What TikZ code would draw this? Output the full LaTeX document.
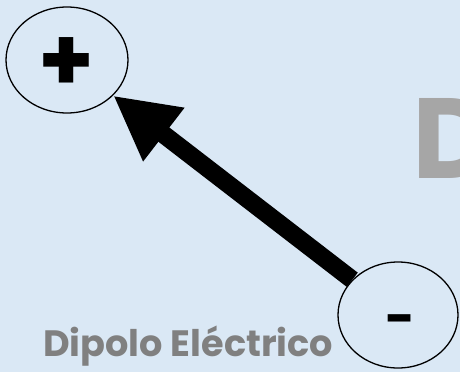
\documentclass[tikz,border=0pt]{standalone}
\usepackage{fontspec}
\setmainfont{Poppins}
\usetikzlibrary{shapes.geometric,arrows.meta}
\definecolor{bg}{RGB}{218,232,245}
\definecolor{titlegray}{RGB}{128,128,128}
\definecolor{dgray}{RGB}{166,166,166}
\begin{document}
\begin{tikzpicture}[x=1pt,y=-1pt,
  charge/.style={ellipse, draw, line width=1.3pt, minimum width=122pt, minimum height=106pt, inner sep=0pt},
  sign/.style={inner sep=0pt, font=\fontsize{54}{54}\selectfont\bfseries, text=black}]
\fill[bg] (0,0) rectangle (460,372);
\useasboundingbox (0,0) rectangle (460,372);
\clip (0,0) rectangle (460,372);
\node[font=\fontsize{114}{114}\selectfont\bfseries, text=dgray, anchor=base west, inner sep=0pt] (D) at (412,178) {D};
\node[font=\fontsize{30}{30}\selectfont\bfseries, text=titlegray, anchor=base west, inner sep=0pt] (title) at (43,356) {\resizebox{290pt}{!}{Dipolo Eléctrico}};
\node[charge] (P) at (67,60) {};
\node[charge, minimum width=120pt] (M) at (398,315) {};
\node[sign] (ps) at (67,65) {\resizebox{56pt}{!}{+}};
\node[sign] (ms) at (400,326) {\resizebox{30pt}{!}{-}};
\draw[line width=18pt, -{Triangle[length=64pt,width=63pt]}] (M) -- (P);
\end{tikzpicture}
\end{document}
